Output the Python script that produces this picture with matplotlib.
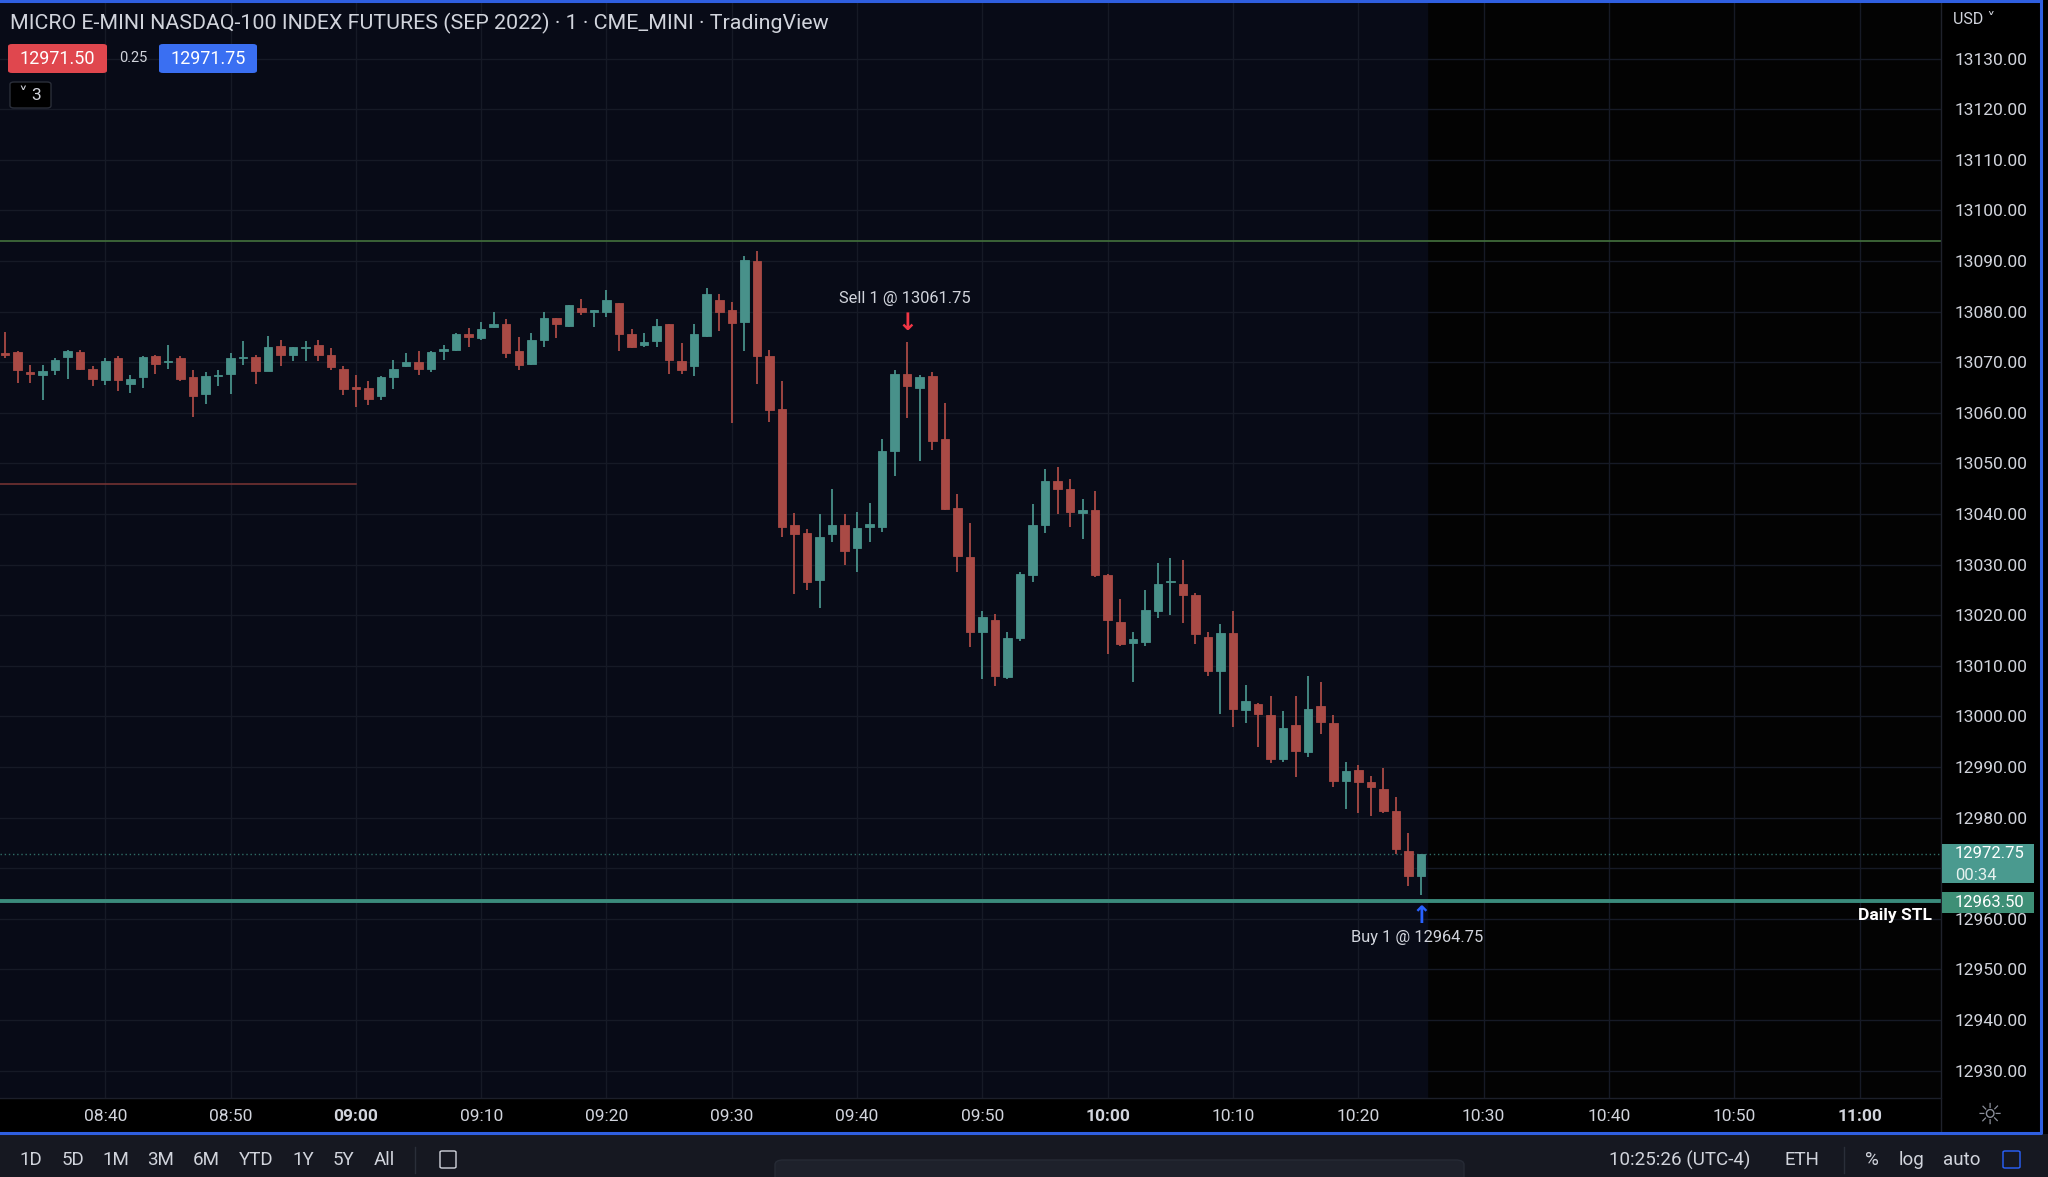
import numpy as np
import matplotlib
matplotlib.use("Agg")
import matplotlib.pyplot as plt
from matplotlib.patches import Rectangle, FancyBboxPatch

plt.rcParams['font.family'] = ['Roboto', 'DejaVu Sans']

# 1-minute bars, first bar 08:32
first_bar = 8 * 60 + 32
opens = [
    13071.75, 13072.0, 13068.0, 13067.5, 13068.5, 13071.0, 13072.0, 13068.75,
    13066.5, 13070.75, 13065.75, 13067.0, 13071.25, 13070.0, 13070.75, 13067.0, 13063.75, 13067.25,
    13067.75, 13070.75, 13071.0, 13068.25, 13073.25, 13071.5, 13072.75, 13073.5, 13071.5, 13068.75,
    13065.0, 13065.0, 13063.25, 13067.0, 13069.25, 13070.0, 13068.75, 13072.25, 13072.5, 13075.5,
    13074.75, 13077.0, 13077.5, 13072.25, 13069.75, 13074.5, 13078.75, 13077.25, 13080.75, 13080.0,
    13080.0, 13081.75, 13075.5, 13073.5, 13074.25, 13077.5, 13070.25, 13069.25, 13075.25, 13082.25,
    13080.25, 13078.0, 13090.0, 13071.25, 13060.75, 13037.75, 13036.25, 13027.0, 13036.0, 13037.75,
    13033.25, 13037.5, 13037.5, 13052.5, 13067.75, 13065.0, 13067.25, 13054.75, 13041.25, 13031.5,
    13016.75, 13019.0, 13007.75, 13015.5, 13028.0, 13037.75, 13046.5, 13045.0, 13040.25, 13040.75,
    13028.0, 13018.75, 13014.5, 13014.75, 13020.75, 13026.5, 13026.25, 13024.0, 13015.75, 13009.0,
    13016.5, 13001.25, 13002.5, 13000.25, 12991.5, 12998.25, 12993.0, 13002.0, 12998.75, 12987.25,
    12989.5, 12987.0, 12985.75, 12981.25, 12973.5, 12968.5,
]
highs = [
    13076.0, 13072.25, 13069.5, 13069.5, 13070.75, 13072.5, 13072.5, 13069.25,
    13070.75, 13071.25, 13067.5, 13071.25, 13071.5, 13073.5, 13071.25, 13068.5, 13068.0, 13068.5,
    13071.75, 13074.25, 13071.5, 13075.25, 13074.5, 13073.0, 13074.25, 13074.5, 13072.75, 13069.25,
    13067.5, 13066.25, 13067.25, 13070.5, 13071.75, 13072.25, 13072.25, 13073.5, 13075.75, 13076.75,
    13078.0, 13080.0, 13078.5, 13075.0, 13075.75, 13080.0, 13078.75, 13081.25, 13082.5, 13080.25,
    13084.25, 13081.75, 13076.5, 13075.75, 13078.5, 13077.5, 13073.75, 13077.5, 13084.75, 13083.5,
    13082.0, 13091.0, 13092.0, 13072.5, 13066.25, 13040.25, 13037.0, 13040.0, 13045.0, 13040.0,
    13040.5, 13042.25, 13054.75, 13068.5, 13074.0, 13067.5, 13068.0, 13062.0, 13044.0, 13038.25,
    13020.75, 13020.25, 13016.75, 13028.5, 13042.0, 13049.0, 13049.25, 13047.0, 13043.0, 13044.5,
    13028.25, 13023.25, 13016.75, 13025.0, 13030.25, 13031.25, 13031.0, 13024.5, 13016.75, 13018.25,
    13020.75, 13006.25, 13002.75, 13004.0, 13001.0, 13004.0, 13008.0, 13006.75, 13000.25, 12991.0,
    12990.5, 12988.25, 12989.75, 12984.0, 12977.0, 12972.75,
]
lows = [
    13070.75, 13066.0, 13066.0, 13062.5, 13067.5, 13066.75, 13068.5, 13065.25,
    13065.5, 13064.25, 13064.0, 13065.0, 13067.75, 13068.75, 13066.25, 13059.25, 13061.75, 13065.25,
    13063.75, 13069.5, 13065.75, 13068.25, 13069.25, 13070.25, 13070.25, 13070.25, 13068.5, 13063.5,
    13061.25, 13061.5, 13062.5, 13064.75, 13069.0, 13067.5, 13068.0, 13070.5, 13072.25, 13073.0,
    13074.5, 13076.75, 13070.75, 13068.5, 13069.5, 13073.0, 13074.75, 13077.0, 13079.25, 13077.0,
    13079.0, 13072.25, 13072.75, 13073.0, 13073.0, 13067.75, 13067.75, 13067.25, 13075.0, 13076.25,
    13058.0, 13072.25, 13065.75, 13058.25, 13035.5, 13024.25, 13025.0, 13021.5, 13034.5, 13030.0,
    13028.5, 13034.5, 13036.5, 13047.5, 13059.0, 13050.5, 13052.75, 13040.75, 13028.5, 13013.75,
    13007.5, 13006.0, 13007.5, 13015.0, 13026.5, 13036.25, 13040.0, 13037.5, 13035.0, 13027.5,
    13012.25, 13014.0, 13006.75, 13014.0, 13019.5, 13020.0, 13018.5, 13014.25, 13008.0, 13000.5,
    12998.0, 12998.75, 12994.0, 12990.75, 12991.0, 12988.0, 12992.0, 12996.5, 12986.0, 12981.75,
    12981.0, 12980.25, 12981.0, 12972.75, 12966.5, 12964.75,
]
closes = [
    13071.5, 13068.5, 13067.75, 13068.25, 13070.5, 13072.25, 13068.75, 13066.75,
    13070.25, 13066.5, 13066.75, 13071.0, 13069.75, 13070.25, 13066.75, 13063.25, 13067.25, 13067.5,
    13070.75, 13071.0, 13068.25, 13073.0, 13071.5, 13073.0, 13073.0, 13071.5, 13069.0, 13064.75,
    13064.75, 13062.75, 13067.0, 13068.75, 13070.0, 13068.75, 13072.0, 13072.5, 13075.5, 13075.0,
    13076.5, 13077.5, 13071.75, 13069.5, 13074.5, 13078.75, 13077.5, 13081.25, 13080.0, 13080.25,
    13082.25, 13075.5, 13073.0, 13074.0, 13077.25, 13070.5, 13068.5, 13075.5, 13083.5, 13080.0,
    13077.75, 13090.25, 13071.25, 13060.5, 13037.5, 13036.0, 13026.5, 13035.5, 13037.75, 13032.75,
    13037.25, 13038.0, 13052.5, 13067.75, 13065.25, 13067.0, 13054.5, 13041.0, 13031.75, 13016.75,
    13019.75, 13008.0, 13015.5, 13028.25, 13037.75, 13046.5, 13045.0, 13040.5, 13040.75, 13028.0,
    13019.0, 13014.25, 13015.25, 13021.0, 13026.25, 13026.75, 13024.0, 13016.25, 13009.0, 13016.5,
    13001.5, 13003.0, 13000.5, 12991.5, 12997.75, 12993.25, 13001.5, 12999.0, 12987.25, 12989.25,
    12987.0, 12986.0, 12981.25, 12973.75, 12968.5, 12972.75,
]

# levels / trades
resistance = 13094.0
red_level = 13046.0
red_level_end = 9 * 60
daily_stl = 12963.5
last_price = 12972.75
sell_time, sell_price = 9 * 60 + 44, 13061.75
buy_time, buy_price = 10 * 60 + 25, 12964.75

price_ticks = list(range(12930, 13131, 10))
hidden_tick = 12970  # covered by the last-price label
time_ticks = ['08:40', '08:50', '09:00', '09:10', '09:20', '09:30', '09:40',
              '09:50', '10:00', '10:10', '10:20', '10:30', '10:40', '10:50', '11:00']

W, H = 2048, 1177
def fx(x): return x / W
def fy(y): return 1 - y / H

UP, DOWN = '#48918a', '#a94a45'
TXT = '#d1d4dc'

fig = plt.figure(figsize=(W / 100, H / 100), dpi=100, facecolor='#000000')
ax = fig.add_axes([0, fy(1098), fx(1941), 1098 / H])
ax.set_facecolor('#030303')

t = first_bar + np.arange(len(opens))
o, h, l, c = map(np.array, (opens, highs, lows, closes))
up = c >= o
cols = np.where(up, UP, DOWN)

ax.set_xlim(511.6, 666.5)
ax.set_ylim(12924.6, 13141.6)
ax.axvspan(511.6, t[-1] + 0.5, color='#080b17', zorder=0)

tick_pos = [int(s[:2]) * 60 + int(s[3:]) for s in time_ticks]
for x in tick_pos:
    ax.axvline(x, color='#161a26', lw=1, zorder=1)
for p in price_ticks:
    ax.axhline(p, color='#161a26', lw=1, zorder=1)

ax.vlines(t, l, h, colors=cols, lw=1.3, zorder=3)
body = np.maximum(np.abs(c - o), 0.3)
ax.bar(t, body, bottom=np.minimum(o, c), width=0.68, color=cols,
       edgecolor=cols, linewidth=0.6, zorder=4)

ax.axhline(resistance, color='#3f6a3a', lw=1.3, zorder=2)
ax.plot([511.6, red_level_end], [red_level, red_level], color='#7c3535', lw=1.1, zorder=2)
ax.axhline(last_price, color='#2f6d66', lw=1, ls=(0, (1, 2)), zorder=2)
ax.axhline(daily_stl, color='#3b8b7c', lw=2.8, zorder=2)
ax.text(665.8, 12960.6, 'Daily STL', color='white', fontsize=12.5, fontweight='bold',
        ha='right', va='center', zorder=6)

ax.text(sell_time - 0.2, 13082.7, f'Sell 1 @ {sell_price:.2f}', color=TXT, fontsize=11.8,
        ha='center', va='center', zorder=6)
ax.text(sell_time, 13077.8, '↓', color='#f23645', fontsize=17, family='DejaVu Sans',
        fontweight='bold', ha='center', va='center', zorder=6)
ax.text(buy_time, 12960.6, '↑', color='#2962ff', fontsize=17, family='DejaVu Sans',
        fontweight='bold', ha='center', va='center', zorder=6)
ax.text(buy_time - 0.3, 12956.3, f'Buy 1 @ {buy_price:.2f}', color=TXT, fontsize=11.8,
        ha='center', va='center', zorder=6)

ax.set_xticks(tick_pos)
ax.set_xticklabels(time_ticks)
for lab in ax.get_xticklabels():
    if lab.get_text().endswith(':00'):
        lab.set_fontweight('bold')
ax.set_yticks(price_ticks)
ax.set_yticklabels(['' if p == hidden_tick else f'{p:.2f}' for p in price_ticks])
ax.yaxis.tick_right()
ax.tick_params(axis='x', length=0, pad=8, labelsize=12.5, labelcolor=TXT)
ax.tick_params(axis='y', length=0, pad=10, labelsize=12.5, labelcolor=TXT)
for s in ax.spines.values():
    s.set_visible(False)

def frect(x0, y0, x1, y1, color, z=2, **kw):
    fig.patches.append(Rectangle((fx(x0), fy(y1)), fx(x1) - fx(x0), fy(y0) - fy(y1),
                                 transform=fig.transFigure, facecolor=color, zorder=z, **kw))

def fround(x0, y0, x1, y1, color, ec='none', z=2, r=0.003):
    fig.patches.append(FancyBboxPatch((fx(x0), fy(y1)), fx(x1) - fx(x0), fy(y0) - fy(y1),
                                      boxstyle=f'round,pad=0,rounding_size={r}',
                                      transform=fig.transFigure, facecolor=color,
                                      edgecolor=ec, zorder=z))

# separators
fig.lines.append(plt.Line2D([fx(1941), fx(1941)], [fy(0), fy(1132)], color='#1f222c', lw=1,
                            transform=fig.transFigure))
fig.lines.append(plt.Line2D([0, fx(1941)], [fy(1098), fy(1098)], color='#1c1f2a', lw=1,
                            transform=fig.transFigure))

# header
fig.text(fx(10), fy(23), 'MICRO E-MINI NASDAQ-100 INDEX FUTURES (SEP 2022) · 1 · CME_MINI · TradingView',
         color=TXT, fontsize=15.4, va='center', ha='left')
fround(8, 44, 107, 73, '#e0474e', r=0.002)
fig.text(fx(57), fy(58.5), '12971.50', color='white', fontsize=13, ha='center', va='center', zorder=5)
fig.text(fx(133), fy(58.5), '0.25', color=TXT, fontsize=10.5, ha='center', va='center')
fround(159, 44, 257, 73, '#3a6ff2', r=0.002)
fig.text(fx(208), fy(58.5), '12971.75', color='white', fontsize=13, ha='center', va='center', zorder=5)
fround(10, 82, 51, 108, '#000000', ec='#2a2e39', r=0.002)
fig.text(fx(30), fy(95), '˅ 3', color=TXT, fontsize=12.5, ha='center', va='center', zorder=5)

# right axis
fig.text(fx(1953), fy(19), 'USD ˅', color=TXT, fontsize=11.5, ha='left', va='center')
frect(1942, 844, 2034, 883, '#4a9a8f', z=3)
fig.text(fx(1955), fy(853), f'{last_price:.2f}', color='white', fontsize=12, va='center', zorder=5)
fig.text(fx(1955), fy(875), '00:34', color='#e6f2ef', fontsize=12, va='center', zorder=5)
frect(1942, 892, 2034, 913, '#3e8f76', z=3)
fig.text(fx(1955), fy(902.5), f'{daily_stl:.2f}', color='white', fontsize=12, va='center', zorder=5)
fig.text(fx(1990), fy(1116), '☼', color='#8a8e99', fontsize=21, ha='center', va='center')

# bottom toolbar
frect(0, 1134, W, H, '#161821', z=1)
fig.lines.append(plt.Line2D([0, fx(2041), fx(2041)], [fy(1133), fy(1133), fy(1)],
                            color='#2f5fe0', lw=2.2, transform=fig.transFigure))
fig.lines.append(plt.Line2D([0, fx(2041)], [fy(1), fy(1)],
                            color='#2f5fe0', lw=2.2, transform=fig.transFigure))
ranges = ['1D', '5D', '1M', '3M', '6M', 'YTD', '1Y', '5Y', 'All']
range_x = [31, 73, 116, 161, 206, 256, 303, 343, 384]
for s, x in zip(ranges, range_x):
    fig.text(fx(x), fy(1160), s, color=TXT, fontsize=13.5, ha='center', va='center', zorder=5)
fig.lines.append(plt.Line2D([fx(415), fx(415)], [fy(1147), fy(1173)], color='#2a2e39', lw=1,
                            transform=fig.transFigure))
fround(440, 1151, 456, 1168, 'none', ec=TXT, r=0.001)
fround(775, 1160, 1464, 1190, '#1e212b', ec='#262a35', r=0.004)
for s, x in [('10:25:26 (UTC-4)', 1680), ('ETH', 1802), ('%', 1872), ('log', 1912), ('auto', 1962)]:
    fig.text(fx(x), fy(1160), s, color=TXT, fontsize=13.5, ha='center', va='center', zorder=5)
fig.lines.append(plt.Line2D([fx(1844), fx(1844)], [fy(1147), fy(1173)], color='#2a2e39', lw=1,
                            transform=fig.transFigure))
fround(2003, 1151, 2020, 1168, 'none', ec='#2962ff', r=0.001)

fig.savefig('out.png', dpi=100, facecolor=fig.get_facecolor())
